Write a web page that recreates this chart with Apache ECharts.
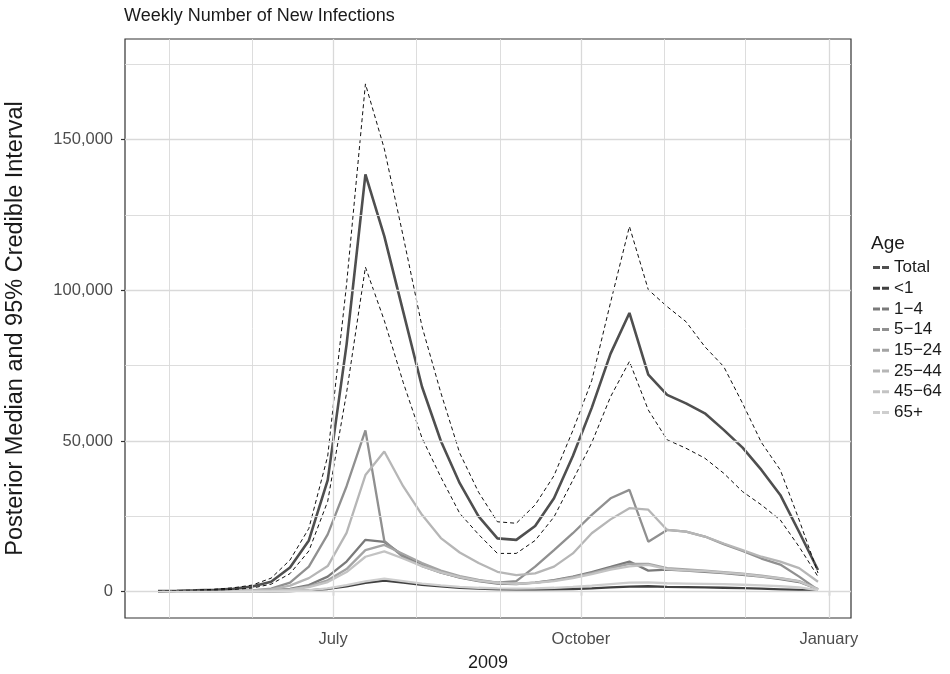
<!DOCTYPE html>
<html><head><meta charset="utf-8">
<script src="https://cdn.jsdelivr.net/npm/echarts@6/dist/echarts.min.js"></script>
<style>html,body{margin:0;padding:0;background:#fff}#c{width:950px;height:674px}</style>
</head><body><div id="c"></div>
<script>
const weeks = ['2009-04-27','2009-05-04','2009-05-11','2009-05-18','2009-05-25','2009-06-01','2009-06-08','2009-06-15','2009-06-22','2009-06-29',
  '2009-07-06','2009-07-13','2009-07-20','2009-07-27','2009-08-03','2009-08-10','2009-08-17','2009-08-24','2009-08-31','2009-09-07',
  '2009-09-14','2009-09-21','2009-09-28','2009-10-05','2009-10-12','2009-10-19','2009-10-26','2009-11-02','2009-11-09','2009-11-16',
  '2009-11-23','2009-11-30','2009-12-07','2009-12-14','2009-12-21','2009-12-28'];

const total = [200,300,450,650,1000,1700,3300,8000,17000,37000,82000,138500,118000,93000,68000,50000,36000,25000,17700,17200,
  21800,31000,45000,61000,79000,92500,72000,65300,62500,59200,53700,47800,40400,32100,19800,7200];
const upperCI = [250,350,550,800,1300,2200,4500,10500,21000,45000,102000,168500,147000,118000,88000,66000,46000,33000,23200,22700,
  28800,38500,53500,70000,96000,121200,100200,94600,89600,81300,74700,62500,49500,40400,23800,6200];
const lowerCI = [150,250,350,500,750,1200,2500,6000,13500,30000,66000,107700,90000,69500,51000,38000,26000,19000,12700,12700,
  17000,24800,37000,49400,64700,76400,60300,50400,47600,44300,39300,33200,28800,23800,14900,5000];

const ageUnder1 = [5,8,12,18,28,45,90,200,450,900,1800,2900,3700,3000,2300,1800,1300,1000,800,700,
  700,800,900,1100,1400,1700,1800,1600,1500,1400,1300,1200,1000,800,600,250];
const age1to4 = [20,30,50,80,120,200,400,900,2200,5000,10000,17200,16500,12000,8800,6400,4700,3500,2700,2500,
  3000,3800,5000,6500,8200,10000,7000,7300,7000,6600,6200,5600,5000,4200,3200,800];
const age5to14 = [50,80,120,180,280,450,1000,3000,8300,19000,35000,53500,16900,11500,8500,6300,4800,3700,3000,3500,
  8300,13800,19400,25500,31000,33800,16600,20500,19900,18300,15800,13500,11000,9000,5000,600];
const age15to24 = [20,30,50,70,110,180,350,800,1800,3800,7500,13800,15500,12500,9500,7000,5200,3900,3000,2700,
  3000,3700,4800,6200,7800,9200,9200,7800,7400,7000,6500,6000,5300,4500,3500,900];
const age25to44 = [50,80,120,170,250,400,800,2000,4500,8500,19500,38700,46500,35000,25500,17800,13000,9500,6600,5500,
  6100,8300,12700,19400,24000,27700,27200,20500,19900,18300,16000,13800,11600,10000,7800,3300];
const age45to64 = [15,25,40,60,90,150,300,650,1500,3200,6500,11600,13400,11000,8500,6400,4800,3700,2900,2600,
  2900,3500,4500,5800,7300,8400,8900,7500,7100,6800,6300,5800,5100,4400,3400,800];
const age65plus = [5,8,12,18,28,45,100,250,550,1100,2200,3400,4300,3500,2700,2100,1600,1300,1100,1000,
  1100,1300,1600,2000,2500,3000,3100,2800,2700,2600,2500,2300,2100,1800,1400,500];

const legendNames = ['Total','<1','1\u22124','5\u221214','15\u221224','25\u221244','45\u221264','65+'];
const ageSeries = [ageUnder1, age1to4, age5to14, age15to24, age25to44, age45to64, age65plus];
const ageColors = ['#404040','#7a7a7a','#909090','#a4a4a4','#b6b6b6','#c3c3c3','#cecece'];

const xTickDates = ['2009-07-01','2009-10-01','2010-01-01'];
const xTickLabels = ['July','October','January'];
const monthLines = ['2009-05-01','2009-06-01','2009-08-01','2009-09-01','2009-11-01','2009-12-01'];
const yTicks = [0,50000,100000,150000];
const yMinor = [25000,75000,125000,175000];

const ts = d => Date.parse(d);
const toData = arr => weeks.map((d,i)=>[ts(d), arr[i]]);
const t0 = ts(weeks[0]), t1 = ts(weeks[weeks.length-1]);
const pad = (t1 - t0) * 0.05;
const FONT = 'Liberation Sans, Arial, sans-serif';
const xTickTs = xTickDates.map(ts);

const gridCol = '#d9d9d9';
const gridLines = [];
xTickDates.forEach(d => gridLines.push({xAxis: ts(d), lineStyle:{width:1.3}}));
monthLines.forEach(d => gridLines.push({xAxis: ts(d), lineStyle:{width:0.9}}));
yTicks.forEach(v => gridLines.push({yAxis: v, lineStyle:{width:1.3}}));
yMinor.forEach(v => gridLines.push({yAxis: v, lineStyle:{width:0.9}}));

const series = [{
  name: '__grid', type: 'line', data: [], z: 1, silent: true,
  markLine: {silent: true, symbol: ['none','none'], animation: false, label: {show:false},
    lineStyle: {color: gridCol, type: 'solid'}, emphasis:{disabled:true}, data: gridLines}
}];
ageSeries.forEach((arr,k) => series.push({
  name: legendNames[k+1], type: 'line', data: toData(arr), showSymbol: false, color: ageColors[k],
  lineStyle: {width: 2.3, color: ageColors[k]}, z: 2, animation: false
}));
series.push({name: 'Total', type: 'line', data: toData(total), showSymbol: false, color: '#4f4f4f',
  lineStyle: {width: 2.6, color: '#4f4f4f'}, z: 3, animation: false});
series.push({name: 'upper', type: 'line', data: toData(upperCI), showSymbol: false, color: '#111',
  lineStyle: {width: 1, color: '#111', type: [4,3]}, z: 4, animation: false});
series.push({name: 'lower', type: 'line', data: toData(lowerCI), showSymbol: false, color: '#111',
  lineStyle: {width: 1, color: '#111', type: [4,3]}, z: 4, animation: false});

const chart = echarts.init(document.getElementById('c'), null, {renderer: 'canvas'});
chart.setOption({
  backgroundColor: '#fff',
  animation: false,
  textStyle: {fontFamily: FONT},
  title: [
    {text: 'Weekly Number of New Infections', left: 124, top: 7, padding: 0,
      textStyle: {fontFamily: FONT, fontSize: 18, fontWeight: 'normal', color: '#1a1a1a'}},
    {text: 'Age', left: 871, top: 234, padding: 0,
      textStyle: {fontFamily: FONT, fontSize: 19, fontWeight: 'normal', color: '#1a1a1a'}}
  ],
  grid: {left: 125, top: 39, right: 99, bottom: 56, show: true, borderColor: '#333', borderWidth: 1.2,
    backgroundColor: 'transparent', outerBoundsMode: 'none'},
  legend: {
    data: legendNames, orient: 'vertical', left: 873, top: 259, padding: 0,
    icon: 'path://M0,0H7V3H0Z M9,0H16V3H9Z', itemWidth: 16, itemHeight: 3, itemGap: 3.7,
    textStyle: {fontFamily: FONT, fontSize: 17, color: '#1a1a1a', lineHeight: 17},
    selectedMode: false
  },
  xAxis: {
    type: 'value', min: t0 - pad, max: t1 + pad,
    name: '2009', nameLocation: 'middle', nameGap: 36,
    nameTextStyle: {fontFamily: FONT, fontSize: 18, color: '#1a1a1a'},
    axisLine: {show: false},
    axisTick: {show: true, length: 4, lineStyle: {color: '#333', width: 1.2}, customValues: xTickTs},
    axisLabel: {show: true, margin: 13, fontFamily: FONT, fontSize: 16.5, color: '#4d4d4d',
      customValues: xTickTs,
      formatter: v => { const i = xTickTs.indexOf(v); return i >= 0 ? xTickLabels[i] : ''; }},
    splitLine: {show: false}
  },
  yAxis: {
    type: 'value', min: -8730, max: 183400,
    name: 'Posterior Median and 95% Credible Interval', nameLocation: 'middle', nameGap: 97, nameRotate: 90,
    nameTextStyle: {fontFamily: FONT, fontSize: 23.5, color: '#1a1a1a'},
    axisLine: {show: false},
    axisTick: {show: true, length: 4, lineStyle: {color: '#333', width: 1.2}, customValues: yTicks},
    axisLabel: {show: true, margin: 12, fontFamily: FONT, fontSize: 16.5, color: '#4d4d4d',
      customValues: yTicks, formatter: v => v.toLocaleString('en-US')},
    splitLine: {show: false}
  },
  series: series
});
</script></body></html>
